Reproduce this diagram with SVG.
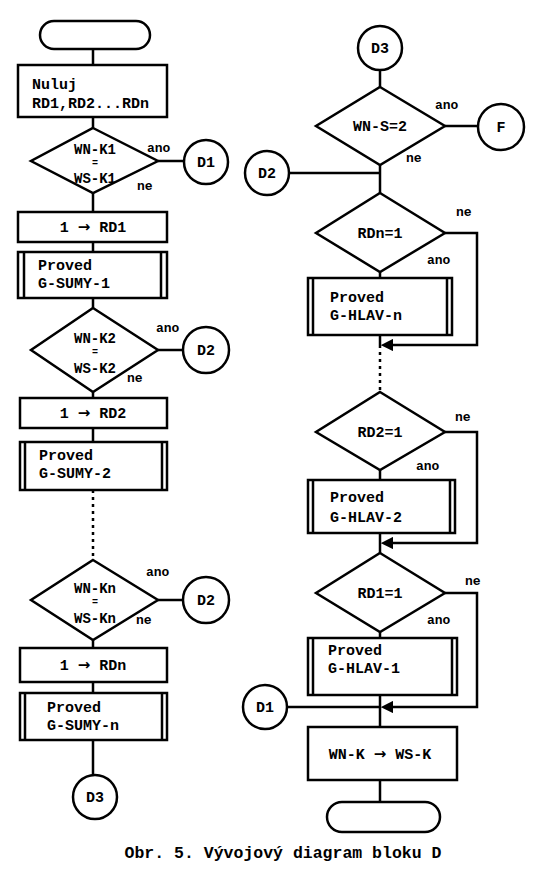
<svg xmlns="http://www.w3.org/2000/svg" width="544" height="876" viewBox="0 0 544 876">
<style>
.s{fill:none;stroke:#000;stroke-width:2.5}
.w{fill:#fff;stroke:#000;stroke-width:2.5}
.t{font-family:"Liberation Mono","DejaVu Sans Mono",monospace;font-weight:bold;font-size:15px;fill:#000}
.k{font-size:14px}
.e{font-size:10px}
.a{font-family:"DejaVu Sans",sans-serif;font-size:15px}
.c{text-anchor:middle}
.l{font-family:"Liberation Mono","DejaVu Sans Mono",monospace;font-weight:bold;font-size:13px;fill:#000}
.d{stroke-dasharray:3 4}
</style>
<defs>
<marker id="ar" viewBox="0 0 10 10" refX="1" refY="5" markerWidth="5" markerHeight="5" orient="auto">
<path d="M10,5 L0,0 L0,10 z" fill="#000"/>
</marker>
</defs>
<rect width="544" height="876" fill="#fff"/>
<g id="connectors">
<path class="s" d="M93,48V65 M93,117V128 M93,193V212 M93,242V252 M93,298V308 M93,392V398 M93,428V442 M93,640V648 M93,682V693 M93,740V775"/>
<path class="s d" d="M93,490V560"/>
<path class="s" d="M158,161H184 M158,350H184 M158,600H184"/>
<path class="s" d="M380,70V87 M380,165V193 M289,173H380 M445,126H478 M380,272V278 M380,335V345 M380,470V480 M380,533V553 M380,632V638 M380,695V727 M380,780V802 M287,707H380"/>
<path class="s d" d="M380,345V392"/>
<path class="s" d="M445,233H477V345H392" marker-end="url(#ar)"/>
<path class="s" d="M445,432H477V543H392" marker-end="url(#ar)"/>
<path class="s" d="M445,593H477V707H392" marker-end="url(#ar)"/>
</g>
<g id="start"><rect class="w" x="40" y="21" width="110" height="28" rx="14"/></g>
<g id="nuluj"><rect class="w" x="18" y="65" width="149" height="52"/>
<text class="t" x="32" y="89">Nuluj</text><text class="t" x="32" y="108">RD1,RD2...RDn</text></g>
<g id="cond1"><polygon class="w" points="93,128 158,161 93,193 31,161"/>
<text class="t k c" x="95" y="154">WN-K1</text><text class="t e c" x="95" y="166">=</text><text class="t k c" x="95" y="183">WS-K1</text>
<text class="l" x="147" y="152">ano</text><text class="l" x="137" y="190">ne</text></g>
<g id="d1a"><circle class="w" cx="206" cy="162" r="22"/><text class="t c" x="206" y="167">D1</text></g>
<g id="rd1"><rect class="w" x="18" y="212" width="149" height="30"/><text class="t c" x="93" y="232">1 <tspan class="a">→</tspan> RD1</text></g>
<g id="sumy1"><rect class="w" x="18" y="252" width="149" height="46"/><path class="s" d="M24,252V298 M161,252V298"/>
<text class="t" x="38" y="270">Proved</text><text class="t" x="38" y="288">G-SUMY-1</text></g>
<g id="cond2"><polygon class="w" points="93,308 158,350 93,392 31,350"/>
<text class="t k c" x="95" y="343">WN-K2</text><text class="t e c" x="95" y="355">=</text><text class="t k c" x="95" y="373">WS-K2</text>
<text class="l" x="156" y="332">ano</text><text class="l" x="127" y="382">ne</text></g>
<g id="d2a"><circle class="w" cx="206" cy="350" r="23"/><text class="t c" x="206" y="355">D2</text></g>
<g id="rd2"><rect class="w" x="20" y="398" width="147" height="30"/><text class="t c" x="93" y="418">1 <tspan class="a">→</tspan> RD2</text></g>
<g id="sumy2"><rect class="w" x="20" y="442" width="147" height="48"/><path class="s" d="M25,442V490 M162,442V490"/>
<text class="t" x="39" y="460">Proved</text><text class="t" x="39" y="478">G-SUMY-2</text></g>
<g id="condn"><polygon class="w" points="93,560 158,600 93,640 31,600"/>
<text class="t k c" x="95" y="593">WN-Kn</text><text class="t e c" x="95" y="605">=</text><text class="t k c" x="95" y="623">WS-Kn</text>
<text class="l" x="146" y="576">ano</text><text class="l" x="136" y="624">ne</text></g>
<g id="d2b"><circle class="w" cx="206" cy="600" r="23"/><text class="t c" x="206" y="605">D2</text></g>
<g id="rdn"><rect class="w" x="20" y="648" width="147" height="34"/><text class="t c" x="93" y="670">1 <tspan class="a">→</tspan> RDn</text></g>
<g id="sumyn"><rect class="w" x="20" y="693" width="147" height="47"/><path class="s" d="M25,693V740 M162,693V740"/>
<text class="t" x="47" y="712">Proved</text><text class="t" x="47" y="730">G-SUMY-n</text></g>
<g id="d3a"><circle class="w" cx="95" cy="797" r="22"/><text class="t c" x="95" y="802">D3</text></g>
<g id="d3b"><circle class="w" cx="380" cy="48" r="22"/><text class="t c" x="380" y="53">D3</text></g>
<g id="condws"><polygon class="w" points="380,87 445,126 380,165 316,126"/>
<text class="t c" x="380" y="131">WN-S=2</text>
<text class="l" x="435" y="109">ano</text><text class="l" x="406" y="162">ne</text></g>
<g id="f"><circle class="w" cx="501" cy="127" r="23"/><text class="t c" x="501" y="132">F</text></g>
<g id="d2c"><circle class="w" cx="267" cy="173" r="22"/><text class="t c" x="267" y="178">D2</text></g>
<g id="condrdn"><polygon class="w" points="380,193 445,233 380,272 316,233"/>
<text class="t c" x="380" y="238">RDn=1</text>
<text class="l" x="456" y="216">ne</text><text class="l" x="427" y="264">ano</text></g>
<g id="hlavn"><rect class="w" x="308" y="278" width="144" height="57"/><path class="s" d="M313,278V335 M447,278V335"/>
<text class="t" x="330" y="302">Proved</text><text class="t" x="330" y="320">G-HLAV-n</text></g>
<g id="condrd2"><polygon class="w" points="380,392 445,432 380,470 316,432"/>
<text class="t c" x="380" y="437">RD2=1</text>
<text class="l" x="455" y="421">ne</text><text class="l" x="416" y="470">ano</text></g>
<g id="hlav2"><rect class="w" x="308" y="480" width="147" height="53"/><path class="s" d="M313,480V533 M450,480V533"/>
<text class="t" x="330" y="502">Proved</text><text class="t" x="330" y="522">G-HLAV-2</text></g>
<g id="condrd1"><polygon class="w" points="380,553 445,593 380,632 316,593"/>
<text class="t c" x="380" y="598">RD1=1</text>
<text class="l" x="465" y="585">ne</text><text class="l" x="427" y="624">ano</text></g>
<g id="hlav1"><rect class="w" x="308" y="638" width="149" height="57"/><path class="s" d="M313,638V695 M452,638V695"/>
<text class="t" x="328" y="655">Proved</text><text class="t" x="328" y="673">G-HLAV-1</text></g>
<g id="d1b"><circle class="w" cx="265" cy="707" r="22"/><text class="t c" x="265" y="712">D1</text></g>
<g id="wnk"><rect class="w" x="308" y="727" width="149" height="53"/><text class="t c" x="380" y="759">WN-K <tspan class="a">→</tspan> WS-K</text></g>
<g id="end"><rect class="w" x="327" y="802" width="113" height="30" rx="15"/></g>
<text class="t c" x="283" y="858" style="font-size:16.5px">Obr. 5. Vývojový diagram bloku D</text>
</svg>
